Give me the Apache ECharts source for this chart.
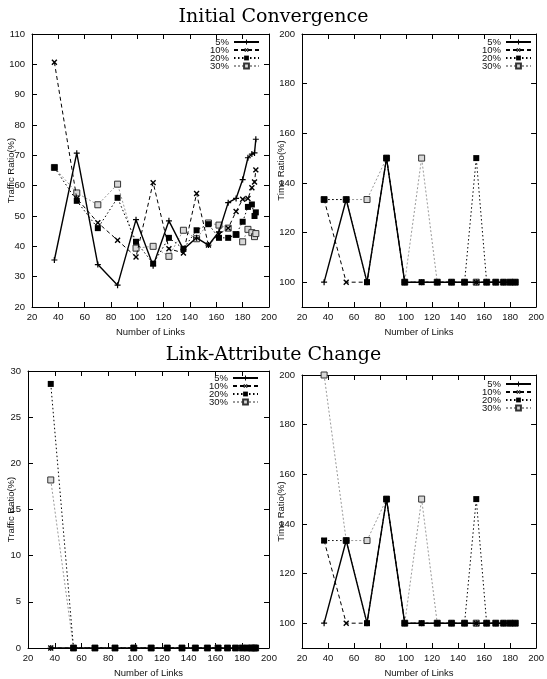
<!DOCTYPE html>
<html><head><meta charset="utf-8">
<script src="https://cdn.jsdelivr.net/npm/echarts@6/dist/echarts.min.js"></script>
<style>html,body{margin:0;padding:0;background:#fff}#c{width:547px;height:679px}</style>
</head><body><div id="c"></div>
<script>
const titles = ['Initial Convergence', 'Link-Attribute Change'];
const seriesNames = ['5%', '10%', '20%', '30%'];
const xAxisName = 'Number of Links';
const trafficName = 'Traffic Ratio(%)';
const timeName = 'Time Ratio(%)';

const linksTraffic = [37, 54, 70, 85, 99, 112, 124, 135, 145, 154, 162, 169, 175, 180, 184, 187, 189, 190];
const linksTime = [37, 54, 70, 85, 99, 112, 124, 135, 145, 154, 162, 169, 175, 180, 184];

const initTraffic5  = [35.5, 70.7, 34.0, 27.2, 48.8, 33.6, 48.4, 39.0, 42.8, 40.4, 44.8, 54.4, 55.8, 62.0, 69.2, 70.4, 70.8, 75.3];
const initTraffic10 = [100.7, 55.8, 47.8, 42.0, 36.5, 61.0, 39.2, 37.8, 57.4, 40.4, 44.0, 46.0, 51.5, 55.5, 55.8, 59.3, 61.2, 65.2];
const initTraffic20 = [66.0, 55.0, 46.0, 56.0, 41.5, 34.3, 42.8, 39.2, 45.3, 47.3, 42.8, 42.8, 43.9, 48.1, 53.0, 53.8, 50.0, 51.2];
const initTraffic30 = [66.0, 57.6, 53.7, 60.5, 39.4, 40.0, 36.7, 45.3, 42.5, 47.7, 47.0, 46.0, 43.9, 41.5, 45.6, 44.5, 43.2, 44.2];

const initTime5  = [100, 133.3, 100, 150, 100, 100, 100, 100, 100, 100, 100, 100, 100, 100, 100];
const initTime10 = [133.3, 100, 100, 150, 100, 100, 100, 100, 100, 100, 100, 100, 100, 100, 100];
const initTime20 = [133.3, 133.3, 100, 150, 100, 100, 100, 100, 100, 150, 100, 100, 100, 100, 100];
const initTime30 = [133.3, 133.3, 133.3, 150, 100, 150, 100, 100, 100, 100, 100, 100, 100, 100, 100];

const lacTraffic5  = [0, 0, 0, 0, 0, 0, 0, 0, 0, 0, 0, 0, 0, 0, 0, 0, 0, 0];
const lacTraffic10 = [0, 0, 0, 0, 0, 0, 0, 0, 0, 0, 0, 0, 0, 0, 0, 0, 0, 0];
const lacTraffic20 = [28.6, 0, 0, 0, 0, 0, 0, 0, 0, 0, 0, 0, 0, 0, 0, 0, 0, 0];
const lacTraffic30 = [18.2, 0, 0, 0, 0, 0, 0, 0, 0, 0, 0, 0, 0, 0, 0, 0, 0, 0];

const lacTime5  = [100, 133.3, 100, 150, 100, 100, 100, 100, 100, 100, 100, 100, 100, 100, 100];
const lacTime10 = [133.3, 100, 100, 150, 100, 100, 100, 100, 100, 100, 100, 100, 100, 100, 100];
const lacTime20 = [133.3, 133.3, 100, 150, 100, 100, 100, 100, 100, 150, 100, 100, 100, 100, 100];
const lacTime30 = [200, 133.3, 133.3, 150, 100, 150, 100, 100, 100, 100, 100, 100, 100, 100, 100];

const timeTicks = [100, 120, 140, 160, 180, 200];

const font = 'Liberation Sans, Arial, Helvetica, sans-serif';
const serif = 'DejaVu Serif, Liberation Serif, serif';
const PLUS = 'path://M4,0H6V4H10V6H6V10H4V6H0V4H4Z';

const styles = [
  {symbol: PLUS, symbolSize: 6, symbolRotate: 0, z: 4, itemStyle: {color: '#000'}, lineStyle: {color: '#000', width: 1.4, type: 'solid'}},
  {symbol: PLUS, symbolSize: 7, symbolRotate: 45, z: 3, itemStyle: {color: '#000'}, lineStyle: {color: '#000', width: 1, type: [4, 3]}},
  {symbol: 'rect', symbolSize: 6, symbolRotate: 0, z: 5, itemStyle: {color: '#000'}, lineStyle: {color: '#000', width: 1, type: [1.5, 2.5]}},
  {symbol: 'rect', symbolSize: 6, symbolRotate: 0, z: 2, itemStyle: {color: '#d8d8d8', borderColor: '#333', borderWidth: 1}, lineStyle: {color: '#999', width: 1, type: [2, 2]}}
];

const grids = [
  {left: 32, top: 34, width: 237, height: 273},
  {left: 302, top: 34, width: 237, height: 273},
  {left: 28, top: 371, width: 241, height: 279},
  {left: 302, top: 375, width: 237, height: 275}
];

const yDefs = [
  {min: 20, max: 110, interval: 10, name: trafficName, gap: 16},
  {min: 90, max: 200, interval: 10, name: timeName, gap: 16, custom: timeTicks},
  {min: 0, max: 30, interval: 5, name: trafficName, gap: 12},
  {min: 90, max: 200, interval: 10, name: timeName, gap: 16, custom: timeTicks}
];

const panelData = [
  {xs: linksTraffic, ys: [initTraffic5, initTraffic10, initTraffic20, initTraffic30]},
  {xs: linksTime, ys: [initTime5, initTime10, initTime20, initTime30]},
  {xs: linksTraffic, ys: [lacTraffic5, lacTraffic10, lacTraffic20, lacTraffic30]},
  {xs: linksTime, ys: [lacTime5, lacTime10, lacTime20, lacTime30]}
];

const legendPos = [
  {right: 287, top: 37},
  {right: 15, top: 37},
  {right: 288, top: 373},
  {right: 15, top: 379}
];

const lineCol = '#000';
const labelStyle = {fontFamily: font, fontSize: 9.5, color: '#111'};
const xAxis = [], yAxis = [], series = [];

grids.forEach((g, i) => {
  const tickBase = {inside: true, length: 5, lineStyle: {color: lineCol, width: 1}};
  const xBase = {type: 'value', gridIndex: i, min: 20, max: 200, interval: 20,
    splitLine: {show: false}, axisLine: {onZero: false, lineStyle: {color: lineCol, width: 1}}, axisTick: tickBase};
  xAxis.push(Object.assign({}, xBase, {position: 'bottom', name: xAxisName, nameLocation: 'middle', nameGap: 20,
    nameMoveOverlap: false,
    nameTextStyle: {fontFamily: font, fontSize: 9.5, color: '#111'}, axisLabel: Object.assign({margin: 5}, labelStyle)}));
  xAxis.push(Object.assign({}, xBase, {position: 'top', axisLabel: {show: false}}));

  const d = yDefs[i];
  const yTick = Object.assign({}, tickBase);
  const yLab = Object.assign({margin: 7}, labelStyle);
  if (d.custom) { yTick.customValues = d.custom; yLab.customValues = d.custom; }
  const yBase = {type: 'value', gridIndex: i, min: d.min, max: d.max, interval: d.interval,
    splitLine: {show: false}, axisLine: {onZero: false, lineStyle: {color: lineCol, width: 1}}, axisTick: yTick};
  yAxis.push(Object.assign({}, yBase, {position: 'left', name: d.name, nameLocation: 'middle', nameGap: d.gap,
    nameMoveOverlap: false,
    nameTextStyle: {fontFamily: font, fontSize: 9.5, color: '#111'}, axisLabel: yLab}));
  yAxis.push(Object.assign({}, yBase, {position: 'right', axisLabel: {show: false}}));

  const pd = panelData[i];
  seriesNames.forEach((n, k) => {
    const st = styles[k];
    series.push({
      type: 'line', name: n, xAxisIndex: 2 * i, yAxisIndex: 2 * i,
      data: pd.xs.map((x, j) => [x, pd.ys[k][j]]),
      symbol: st.symbol, symbolSize: st.symbolSize, symbolRotate: st.symbolRotate,
      showAllSymbol: true, z: st.z, animation: false, clip: false,
      itemStyle: st.itemStyle, lineStyle: st.lineStyle, emphasis: {disabled: true}
    });
  });
});

const legend = legendPos.map(p => ({
  data: seriesNames, orient: 'vertical', align: 'right', right: p.right, top: p.top,
  itemWidth: 25, itemHeight: 6, itemGap: -2, padding: 0, selectedMode: false,
  textStyle: {fontFamily: font, fontSize: 9.5, color: '#111', lineHeight: 8}
}));

const chart = echarts.init(document.getElementById('c'), null, {renderer: 'canvas'});
chart.setOption({
  backgroundColor: '#fff',
  animation: false,
  title: [
    {text: titles[0], left: 'center', top: 3, textStyle: {fontFamily: serif, fontSize: 19, fontWeight: 'normal', color: '#000'}},
    {text: titles[1], left: 'center', top: 341, textStyle: {fontFamily: serif, fontSize: 19, fontWeight: 'normal', color: '#000'}}
  ],
  grid: grids,
  xAxis, yAxis, legend, series
});
</script></body></html>
